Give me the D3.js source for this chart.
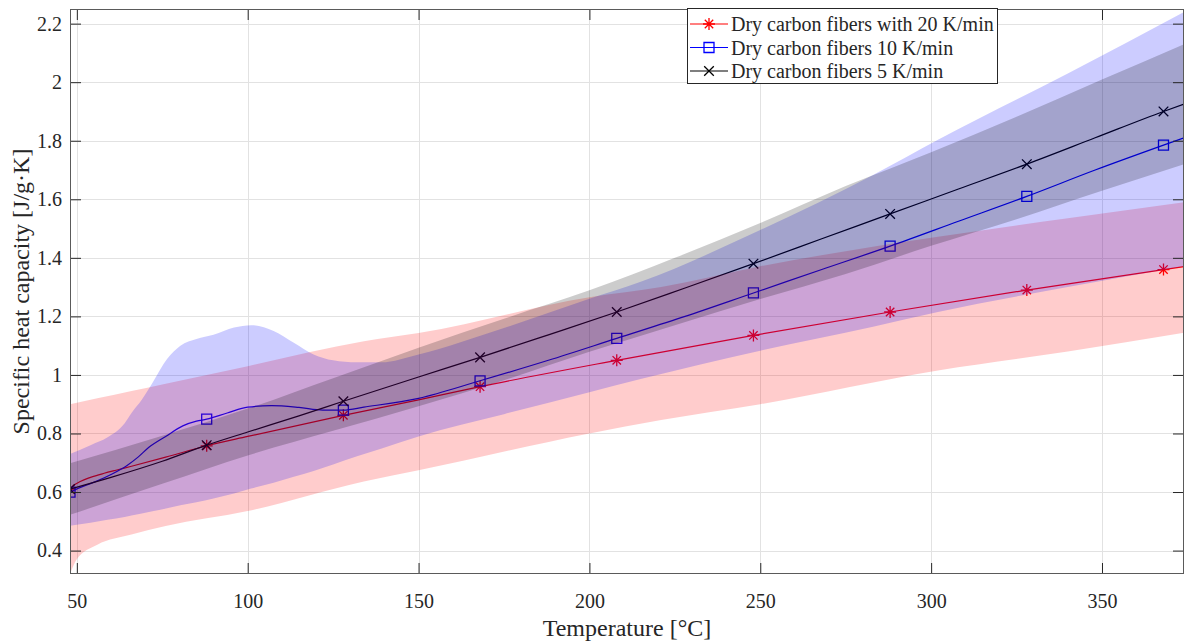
<!DOCTYPE html>
<html>
<head>
<meta charset="utf-8">
<script src="https://cdn.jsdelivr.net/npm/d3@7"></script>
<style>
  body { margin: 0; background: #fff; }
  text { font-family: "Liberation Serif", "Times New Roman", serif; fill: #262626; }
</style>
</head>
<body>
<div class="container"></div>
<script>
const WIDTH = 1186;
const HEIGHT = 641;
const LEFT = 70, RIGHT = 1184, TOP = 9, BOTTOM = 574;
const SERIF = '"Liberation Serif", "Times New Roman", serif';

// tick labels
var xTicks = [50, 100, 150, 200, 250, 300, 350];
var yTicks = [0.4, 0.6, 0.8, 1, 1.2, 1.4, 1.6, 1.8, 2, 2.2];
var markerT = [48, 88, 128, 168, 208, 248, 288, 328, 368];

// 20 K/min
var redT = [48, 49, 51, 54, 58, 62, 66, 76, 88, 100, 128, 150, 168, 208, 248, 288, 328, 368, 374];
var redCp = [0.61, 0.622, 0.636, 0.65, 0.664, 0.676, 0.688, 0.719, 0.758, 0.79, 0.862, 0.915, 0.96, 1.05, 1.135, 1.215, 1.29, 1.36, 1.37];
var redBandT = [48, 50, 56, 66, 76, 100, 134, 150, 200, 221, 250, 302, 340, 374];
var redUpper = [0.90, 0.905, 0.92, 0.945, 0.97, 1.03, 1.115, 1.143, 1.265, 1.30, 1.371, 1.472, 1.535, 1.59];
var redLower = [0.32, 0.37, 0.42, 0.455, 0.484, 0.535, 0.636, 0.674, 0.80, 0.846, 0.90, 1.015, 1.08, 1.144];

// 10 K/min
var blueT = [48, 52, 56, 60, 64.6, 68, 71, 76, 81, 85, 88, 94, 100, 107, 115, 122, 128, 134, 150, 168, 188, 208, 228, 248, 268, 288, 308, 328, 348, 368, 374];
var blueCp = [0.60, 0.62, 0.638, 0.66, 0.69, 0.72, 0.752, 0.79, 0.826, 0.842, 0.849, 0.87, 0.89, 0.895, 0.889, 0.88, 0.88, 0.89, 0.92, 0.98, 1.05, 1.125, 1.20, 1.28, 1.36, 1.44, 1.525, 1.61, 1.70, 1.785, 1.81];
var blueBandT = [48, 54, 59, 64, 66, 69, 72.5, 76.4, 80.3, 85, 90, 96, 101, 107.6, 113.5, 119.3, 125, 132, 139, 150, 175, 200, 215, 250, 283, 302, 340, 374];
var blueUpper = [0.73, 0.76, 0.787, 0.835, 0.87, 0.915, 0.98, 1.054, 1.10, 1.123, 1.137, 1.162, 1.17, 1.15, 1.11, 1.07, 1.05, 1.043, 1.043, 1.07, 1.16, 1.26, 1.318, 1.495, 1.683, 1.803, 2.03, 2.24];
var blueLower = [0.485, 0.495, 0.505, 0.515, 0.52, 0.527, 0.535, 0.545, 0.555, 0.565, 0.578, 0.595, 0.612, 0.632, 0.652, 0.672, 0.694, 0.722, 0.748, 0.79, 0.866, 0.941, 0.986, 1.083, 1.165, 1.215, 1.30, 1.37];

// 5 K/min
var blackT = [48, 60, 75, 88, 100, 115, 128, 150, 168, 188, 208, 228, 248, 268, 288, 308, 328, 348, 368, 374];
var blackCp = [0.61, 0.65, 0.705, 0.76, 0.805, 0.86, 0.91, 0.993, 1.06, 1.137, 1.215, 1.297, 1.38, 1.465, 1.55, 1.635, 1.72, 1.81, 1.90, 1.925];
var grayT = [48, 75, 100, 125, 150, 175, 200, 225, 250, 275, 300, 325, 350, 374];
var grayUpper = [0.698, 0.792, 0.885, 0.989, 1.093, 1.192, 1.289, 1.40, 1.519, 1.645, 1.761, 1.882, 2.009, 2.13];
var grayLower = [0.522, 0.628, 0.725, 0.809, 0.893, 0.982, 1.079, 1.17, 1.259, 1.345, 1.441, 1.532, 1.629, 1.72];

var legendNames = ['Dry carbon fibers with 20 K/min', 'Dry carbon fibers 10 K/min', 'Dry carbon fibers 5 K/min'];

var zip = function(a, b) { return a.map((d, i) => [d, b[i]]); };
var zip3 = function(a, b, c) { return a.map((d, i) => [d, b[i], c[i]]); };

var translate = function(x, y) {
    return `translate(${x},${y})`;
};

// marker shapes, drawn around (0,0)
var markerPath = function(kind) {
    if (kind === 'star') {
        let r = 6, q = 4.2;
        return `M${-r},0L${r},0M0,${-r}L0,${r}M${-q},${-q}L${q},${q}M${-q},${q}L${q},${-q}`;
    }
    if (kind === 'square') {
        let s = 5;
        return `M${-s},${-s}H${s}V${s}H${-s}Z`;
    }
    let x = 4.8;
    return `M${-x},${-x}L${x},${x}M${-x},${x}L${x},${-x}`;
};

var series = [
    { name: legendNames[0], color: '#ff0000', marker: 'star', pts: zip(redT, redCp), band: zip3(redBandT, redUpper, redLower) },
    { name: legendNames[1], color: '#0000ff', marker: 'square', pts: zip(blueT, blueCp), band: zip3(blueBandT, blueUpper, blueLower) },
    { name: legendNames[2], color: '#000000', marker: 'times', pts: zip(blackT, blackCp), band: zip3(grayT, grayUpper, grayLower) }
];

var fillLayout = function() {
    var svg = d3.select('.container').append('svg')
        .attr('width', WIDTH)
        .attr('height', HEIGHT);

    let xScale = d3.scaleLinear().domain([48, 374]).range([LEFT, RIGHT]);
    let yScale = d3.scaleLinear().domain([0.32, 2.25]).range([BOTTOM, TOP]);

    svg.append('defs').append('clipPath').attr('id', 'plotclip')
        .append('rect')
        .attr('x', LEFT).attr('y', TOP)
        .attr('width', RIGHT - LEFT).attr('height', BOTTOM - TOP);

    // grid
    var grid = svg.append('g').attr('stroke', '#e2e2e2').attr('stroke-width', 1);
    grid.selectAll('.gx').data(xTicks).enter().append('line')
        .attr('x1', (d) => Math.round(xScale(d)) + 0.5).attr('x2', (d) => Math.round(xScale(d)) + 0.5)
        .attr('y1', TOP).attr('y2', BOTTOM);
    grid.selectAll('.gy').data(yTicks).enter().append('line')
        .attr('y1', (d) => Math.round(yScale(d)) + 0.5).attr('y2', (d) => Math.round(yScale(d)) + 0.5)
        .attr('x1', LEFT).attr('x2', RIGHT);

    var plot = svg.append('g').attr('clip-path', 'url(#plotclip)');

    var line = d3.line()
        .x((d) => xScale(d[0]))
        .y((d) => yScale(d[1]))
        .curve(d3.curveMonotoneX);

    // lines first, the bands are laid over them
    series.forEach(function(s) {
        plot.append('path')
            .attr('d', line(s.pts))
            .attr('fill', 'none')
            .attr('stroke', s.color)
            .attr('stroke-width', 1.2);
        plot.selectAll(null)
            .data(s.pts.filter((d) => markerT.indexOf(d[0]) >= 0))
            .enter().append('path')
            .attr('transform', (d) => translate(xScale(d[0]), yScale(d[1])))
            .attr('d', markerPath(s.marker))
            .attr('fill', 'none')
            .attr('stroke', s.color)
            .attr('stroke-width', 1.3);
    });

    var area = d3.area()
        .x((d) => xScale(d[0]))
        .y0((d) => yScale(d[2]))
        .y1((d) => yScale(d[1]))
        .curve(d3.curveMonotoneX);

    series.forEach(function(s) {
        plot.append('path')
            .attr('d', area(s.band))
            .attr('fill', s.color)
            .attr('fill-opacity', 0.2)
            .attr('stroke', 'none');
    });

    // axes with inward ticks
    let xAxis = d3.axisBottom(xScale).tickValues(xTicks).tickSizeInner(-11).tickSizeOuter(0).tickPadding(20).tickFormat((d) => d);
    let yAxis = d3.axisLeft(yScale).tickValues(yTicks).tickSizeInner(-11).tickSizeOuter(0).tickPadding(8).tickFormat((d) => +d.toFixed(1));
    let xTop = d3.axisTop(xScale).tickValues(xTicks).tickSizeInner(-11).tickSizeOuter(0).tickFormat('');
    let yRight = d3.axisRight(yScale).tickValues(yTicks).tickSizeInner(-11).tickSizeOuter(0).tickFormat('');

    var gx = svg.append('g').attr('transform', translate(0, BOTTOM)).call(xAxis);
    var gy = svg.append('g').attr('transform', translate(LEFT, 0)).call(yAxis);
    var gt = svg.append('g').attr('transform', translate(0, TOP)).call(xTop);
    var gr = svg.append('g').attr('transform', translate(RIGHT, 0)).call(yRight);
    [gx, gy, gt, gr].forEach(function(g) {
        g.attr('font-family', null);
        g.select('.domain').remove();
        g.selectAll('line').attr('stroke', '#262626');
        g.selectAll('text')
            .style('font-family', SERIF)
            .style('font-size', '20px')
            .attr('fill', '#262626');
    });

    svg.append('rect')
        .attr('x', LEFT + 0.5).attr('y', TOP + 0.5)
        .attr('width', RIGHT - LEFT - 1).attr('height', BOTTOM - TOP - 1)
        .attr('fill', 'none')
        .attr('stroke', '#5a5a5a')
        .attr('stroke-width', 1);

    svg.append('text')
        .attr('x', (LEFT + RIGHT) / 2).attr('y', 636)
        .attr('text-anchor', 'middle')
        .style('font-size', '24px')
        .text('Temperature [°C]');

    svg.append('text')
        .attr('transform', `translate(29,${(TOP + BOTTOM) / 2}) rotate(-90)`)
        .attr('text-anchor', 'middle')
        .style('font-size', '24px')
        .text('Specific heat capacity [J/g·K]');

    // legend
    var lg = svg.append('g').attr('transform', translate(687, 8));
    lg.append('rect')
        .attr('x', 0.5).attr('y', 0.5)
        .attr('width', 310).attr('height', 75)
        .attr('fill', '#fff')
        .attr('stroke', '#262626')
        .attr('stroke-width', 1);
    series.forEach(function(s, i) {
        let y = 16 + i * 23.5;
        lg.append('line')
            .attr('x1', 3).attr('x2', 41).attr('y1', y).attr('y2', y)
            .attr('stroke', s.color).attr('stroke-width', 1.2);
        lg.append('path')
            .attr('transform', translate(22, y))
            .attr('d', markerPath(s.marker))
            .attr('fill', 'none')
            .attr('stroke', s.color)
            .attr('stroke-width', 1.3);
        lg.append('text')
            .attr('x', 44).attr('y', y + 7)
            .style('font-size', '20px')
            .attr('fill', '#000')
            .text(s.name);
    });
};

window.onload = fillLayout;
</script>
</body>
</html>
